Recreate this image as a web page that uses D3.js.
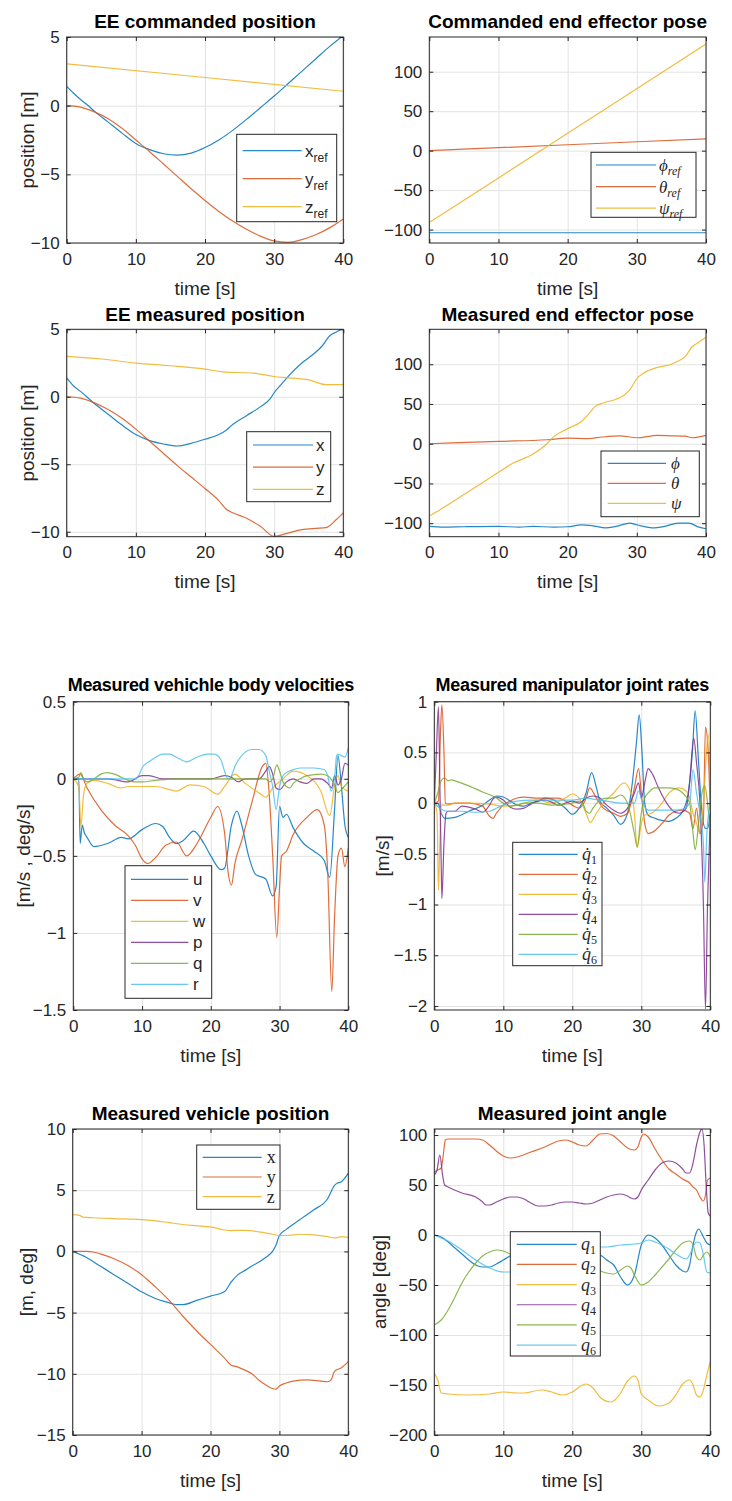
<!DOCTYPE html>
<html><head><meta charset="utf-8">
<script src="https://cdn.jsdelivr.net/npm/d3@7"></script>
<style>body{margin:0;background:#fff}svg{display:block}</style>
</head><body>
<svg id="c" width="732" height="1501"></svg>
<script>
// ---------- data ----------
const timeTicks = [0, 10, 20, 30, 40];
const posTicks = [-10, -5, 0, 5];
const poseTicks = [-100, -50, 0, 50, 100];
const velTicks = [-1.5, -1, -0.5, 0, 0.5];
const rateTicks = [-2, -1.5, -1, -0.5, 0, 0.5, 1];
const vehTicks = [-15, -10, -5, 0, 5, 10];
const angTicks = [-200, -150, -100, -50, 0, 50, 100];

// EE commanded position [t, value]
const eeCmdX = [[0,1.4],[1,0.9],[2,0.45],[3,0.05],[4,-0.4],[6,-1.2],[8,-2.0],[10,-2.75],[12,-3.2],[14,-3.5],[16,-3.6],[18,-3.45],[20,-3.05],[22,-2.5],[24,-1.8],[26,-1.0],[28,-0.15],[30,0.7],[32,1.6],[34,2.5],[36,3.4],[38,4.3],[40,5.1]];
const eeCmdY = [[0,0],[2,-0.1],[4,-0.45],[6,-0.95],[8,-1.65],[10,-2.5],[12,-3.35],[14,-4.25],[16,-5.15],[18,-6.05],[20,-6.9],[22,-7.7],[24,-8.4],[26,-9.0],[28,-9.5],[30,-9.85],[32,-9.95],[34,-9.75],[36,-9.4],[38,-8.9],[40,-8.25]];
const eeCmdZ = [[0,3.05],[20,2.05],[40,1.05]];

// Commanded EE pose
const cmdPhi = [[0,-104],[20,-104],[40,-104]];
const cmdTheta = [[0,0],[20,7.5],[40,15]];
const cmdPsi = [[0,-91],[20,22],[40,135]];

// EE measured position
const eeMeasX = [[0,1.4],[1,0.8],[2,0.4],[4,-0.5],[6,-1.3],[8,-2.1],[10,-2.8],[12,-3.25],[14,-3.5],[16,-3.65],[18,-3.45],[20,-3.15],[22,-2.8],[23,-2.5],[24,-2.05],[26,-1.4],[28,-0.75],[29.5,-0.1],[30,0.3],[31,0.9],[32,1.5],[34,2.5],[36,3.3],[37,3.8],[38,4.5],[39,4.8],[40,5.1]];
const eeMeasY = [[0,0],[2,-0.1],[4,-0.45],[6,-0.95],[8,-1.6],[10,-2.4],[12,-3.3],[14,-4.2],[16,-5.1],[18,-5.95],[20,-6.8],[22,-7.7],[23,-8.3],[24,-8.6],[26,-9.0],[28,-9.6],[30,-10.35],[32,-10.1],[34,-9.85],[36,-9.75],[37.5,-9.7],[39,-9.1],[40,-8.6]];
const eeMeasZ = [[0,3.0],[5,2.8],[10,2.5],[15,2.3],[20,2.05],[22.5,1.85],[27,1.75],[30,1.5],[32,1.4],[35,1.25],[37.5,0.9],[40,0.9]];

// Measured EE pose
const measPhi = [[0,-104],[2,-105],[5,-104.5],[10,-104],[13,-105],[15,-104],[18,-105],[20,-104.5],[22,-102],[23.5,-103],[25.5,-106],[27,-104],[29,-100],[30,-102],[32.5,-106],[34,-104],[36,-100],[37.5,-100],[39,-105],[40,-107]];
const measTheta = [[0,0],[10,3],[17,5],[20,7],[23,6.5],[25,8.5],[27.5,10],[30,7.5],[33,10.5],[35,10],[37,9.5],[38,7.5],[40,10.5]];
const measPsi = [[0,-91],[1,-86],[5,-64],[10,-36],[12,-25],[15,-13],[17,0],[18,9],[20,19],[22,28],[23,37],[24,47],[25,51],[27,56],[28,60],[29,68],[30,82],[31,89],[33,96],[35,100],[36,104],[37,110],[38,122],[39,128],[40,134]];

// Measured vehicle body velocities
const velU = [[0,0],[0.8,0],[1,-0.42],[1.3,-0.3],[1.6,-0.35],[2,-0.38],[3,-0.44],[5,-0.42],[7,-0.38],[8,-0.39],[10,-0.33],[12,-0.29],[13,-0.31],[14,-0.38],[15,-0.42],[16,-0.4],[17.5,-0.34],[19,-0.42],[20,-0.5],[21.5,-0.59],[22,-0.58],[23,-0.3],[23.8,-0.21],[24.5,-0.3],[25.5,-0.5],[26.5,-0.62],[28,-0.65],[29,-0.76],[29.5,-0.7],[30,-0.18],[30.5,-0.25],[31,-0.23],[32,-0.32],[33.5,-0.42],[35,-0.47],[36.5,-0.53],[37.3,-0.64],[38,-0.2],[38.5,0.15],[39,-0.05],[39.5,-0.3],[40,-0.38]];
const velV = [[0,0],[1,0.03],[2,-0.06],[4,-0.2],[6,-0.3],[8,-0.37],[9,-0.43],[10,-0.52],[10.8,-0.55],[12,-0.51],[13.5,-0.43],[15,-0.41],[16.5,-0.5],[18,-0.42],[20,-0.25],[21,-0.18],[22,-0.35],[22.5,-0.6],[23,-0.69],[23.5,-0.55],[24.5,-0.4],[26,-0.15],[27.5,0.08],[28,0.1],[28.5,-0.1],[29,-0.5],[29.6,-1.03],[30,-0.7],[30.3,-0.5],[31,-0.47],[32,-0.36],[34,-0.25],[35.5,-0.2],[36.5,-0.3],[37,-0.6],[37.6,-1.38],[38,-0.9],[38.5,-0.5],[39,-0.45],[39.5,-0.57],[40,-0.45]];
const velW = [[0,0],[0.8,-0.05],[1.1,-0.31],[1.5,-0.1],[2,-0.03],[3,-0.01],[5,-0.03],[7,-0.06],[8,-0.05],[10,-0.05],[12,-0.05],[14,-0.07],[15,-0.08],[17,-0.04],[19,-0.05],[21,-0.1],[22,-0.05],[23.5,0.03],[25,-0.03],[27,-0.09],[28,-0.12],[29,-0.06],[30.5,0],[32,0.05],[34,0.02],[36,-0.08],[37.3,-0.24],[38,-0.05],[38.5,0.02],[39,-0.05],[40,-0.08]];
const velP = [[0,0],[5,0],[8,-0.02],[10,0.02],[11,0.02],[13,0],[18,0],[20,0],[22,0.02],[23,0.01],[24,-0.02],[25,0],[27,0],[28,0.05],[28.5,0.08],[29,0.03],[29.5,-0.06],[30,-0.07],[31,-0.02],[32,0],[33,-0.02],[34,-0.03],[35,0],[36,0],[37,-0.03],[37.6,-0.06],[38,0.02],[38.5,-0.04],[39,0],[39.5,0.1],[40,0.09]];
const velQ = [[0,0],[0.8,0.01],[1.1,0.04],[1.5,0],[2,-0.02],[3,0],[4,0.03],[5,0.04],[6,0.03],[7,0.01],[8,-0.01],[9,-0.02],[10,-0.02],[12,-0.01],[15,0],[20,0],[25,0],[28,0],[28.5,-0.02],[29,0],[29.6,0.09],[30,0.05],[30.5,-0.02],[31.5,-0.06],[32,-0.03],[33,0],[34,0.02],[36,0.03],[37,0.02],[38,-0.04],[38.5,-0.09],[39,-0.07],[40,-0.02]];
const velR = [[0,0],[5,0],[9,0],[9.5,0.02],[10,0.07],[11,0.11],[12,0.14],[13,0.16],[14,0.16],[15,0.14],[16.5,0.11],[18,0.14],[19.5,0.16],[20.5,0.16],[21.5,0.12],[22,0.05],[22.5,0],[23,0.02],[23.5,0.08],[24.5,0.15],[26,0.19],[27,0.19],[28,0.15],[28.5,0.05],[29,-0.05],[29.5,-0.2],[30,-0.05],[30.5,0.02],[31,0.04],[32,0.06],[33,0.07],[35,0.07],[36.5,0.06],[37,0.02],[37.5,-0.08],[38,0],[38.3,0.15],[38.5,0.16],[39,0.15],[39.5,0.14],[40,0.2]];

// Measured manipulator joint rates
const rateQ1 = [[0,0],[0.5,0],[1,-0.1],[1.5,-0.15],[3,-0.14],[5,-0.08],[7,-0.02],[8,0.03],[9,0.07],[10,0.06],[11,0.02],[12,-0.02],[13,-0.03],[14,0],[15,0.02],[16,0.05],[17,0.04],[18,0],[19,-0.05],[20,-0.11],[21,-0.05],[22,0.1],[22.8,0.3],[23.5,0.15],[24,0.02],[25,-0.05],[26,-0.12],[27,-0.21],[28,-0.1],[28.7,0.2],[29.3,0.6],[29.7,0.87],[30.1,0.5],[30.5,0],[31,-0.12],[32,-0.15],[33,-0.17],[34,-0.18],[35,-0.15],[36,-0.08],[36.8,0.1],[37.4,0.5],[37.8,0.91],[38.3,0.4],[38.8,-0.1],[39.3,-0.25],[39.6,-0.25],[40,-0.1]];
const rateQ2 = [[0,0],[0.6,0.02],[0.9,0.7],[1.1,0.97],[1.4,0.5],[1.6,0],[2,-0.01],[3,0],[5,0],[7,-0.03],[8,-0.13],[8.5,-0.15],[9,-0.1],[10,-0.02],[11,0.02],[12,0.05],[13,0.06],[15,0.05],[17,0.05],[18,0.05],[19,0.02],[20,-0.02],[21,-0.05],[22,0.05],[22.5,0.15],[23.5,0.05],[24.5,-0.05],[26,-0.1],[27,-0.13],[28,-0.1],[28.5,0],[29,0.15],[29.6,0.34],[30,0.1],[30.5,-0.2],[31,-0.3],[32,-0.27],[33,-0.2],[34,-0.12],[35,-0.08],[36,-0.07],[37,-0.1],[37.5,-0.25],[38,-0.05],[38.5,-0.3],[39,-0.15],[39.3,0.75],[39.7,0.5],[40,-0.1]];
const rateQ3 = [[0,0],[0.4,-0.1],[0.6,-0.86],[0.8,-0.4],[1,-0.02],[2,-0.02],[3,0],[5,0],[8,-0.01],[10,-0.03],[12,-0.02],[14,0.02],[15,0.03],[17,0],[19,0.05],[20,0.09],[21,0.05],[22,-0.1],[22.6,-0.19],[23.5,-0.1],[24.5,0],[26,0.1],[27,0.18],[27.5,0.2],[28.5,0.1],[29,-0.1],[29.4,-0.44],[30,-0.2],[30.5,-0.12],[31.5,-0.1],[33,0],[34,0.1],[35.5,0.15],[36.5,0.12],[37,0.05],[37.5,-0.1],[38,-0.2],[38.5,-0.3],[39,0],[39.5,0.55],[39.7,0.68],[40,0.1]];
const rateQ4 = [[0,0],[0.3,0.5],[0.6,0.95],[0.8,0.2],[1,-0.6],[1.1,-0.94],[1.4,-0.4],[1.7,-0.1],[2,-0.08],[3,-0.08],[4,-0.03],[5,-0.04],[6,-0.06],[7,-0.09],[8,-0.02],[8.5,0.04],[9,0.06],[10,0.03],[11,-0.04],[12,-0.06],[13,-0.05],[14,-0.01],[15,0.02],[16,0.03],[17,0.01],[18,-0.02],[19,0],[20,0.02],[21,0],[22,0.05],[23,0.07],[24,0.05],[25,-0.02],[26,-0.07],[27,-0.1],[28,-0.05],[29,0.1],[29.6,0.2],[30,0.05],[30.5,0.2],[31,0.34],[31.5,0.3],[32.5,0.15],[33.5,0.02],[34.5,-0.07],[35.5,-0.1],[36.5,-0.05],[37,0.2],[37.6,0.64],[38,0.4],[38.5,0],[39,-1.0],[39.3,-2.03],[39.6,-1.0],[40,-0.1]];
const rateQ5 = [[0,0],[0.5,0.1],[1,0.22],[1.5,0.25],[2,0.22],[2.5,0.23],[3,0.22],[5,0.17],[7,0.11],[9,0.05],[10,0],[11,-0.03],[12,-0.02],[13,0],[15,0],[17,-0.02],[19,-0.01],[20,0],[21,0.02],[21.5,0],[22,-0.08],[22.5,-0.1],[23,-0.05],[24,0.03],[25,0.05],[26,0.05],[27,0.08],[28,0],[29,-0.3],[29.4,-0.43],[30,-0.1],[30.5,0.05],[31,0.1],[32,0.15],[34,0.15],[35,0.14],[36,0.1],[37,0],[37.5,-0.3],[37.8,-0.46],[38.3,-0.2],[38.8,0.1],[39.2,0.17],[39.6,0],[40,-0.3]];
const rateQ6 = [[0,0],[1,-0.06],[2,-0.08],[4,-0.08],[6,-0.09],[8,-0.08],[9,-0.05],[10,-0.02],[12,0.02],[14,0.03],[16,0.03],[18,0.03],[20,0.03],[22,0.05],[23,0.04],[25,0.02],[27,0],[29,0],[29.6,0.12],[30.2,0],[31,-0.07],[33,-0.07],[35,-0.07],[36,-0.06],[37,0],[37.5,0.33],[38,0.1],[38.7,-0.2],[39,-0.4],[39.2,-0.78],[39.5,-0.3],[40,0]];

// Measured vehicle position
const vehX = [[0,0],[2,-0.5],[4,-1.2],[6,-1.9],[8,-2.6],[10,-3.3],[12,-3.85],[14,-4.2],[15,-4.35],[16,-4.35],[18,-4.0],[20,-3.65],[22,-3.3],[23,-2.5],[24,-1.9],[25,-1.55],[26,-1.2],[28,-0.5],[29,0.0],[29.5,0.5],[30,1.3],[31,1.8],[33,2.6],[35,3.4],[37,4.3],[38,5.4],[38.5,5.6],[39,5.7],[40,6.4]];
const vehY = [[0,0],[2,0],[3,-0.05],[4,-0.2],[6,-0.6],[8,-1.15],[10,-1.9],[12,-2.9],[14,-4.0],[16,-5.3],[18,-6.5],[20,-7.6],[22,-8.7],[23,-9.3],[24,-9.45],[25,-9.7],[26,-10.0],[27,-10.5],[28,-10.9],[29,-11.2],[29.5,-11.25],[30,-11.0],[31,-10.75],[32,-10.6],[34,-10.5],[36,-10.6],[37,-10.65],[37.5,-10.5],[38,-9.8],[39,-9.5],[40,-9.0]];
const vehZ = [[0,3.0],[1,2.95],[1.5,2.8],[3,2.75],[6,2.68],[10,2.6],[12,2.5],[14,2.35],[16,2.2],[18,2.1],[20,2.0],[22,1.75],[23,1.7],[25,1.72],[27,1.6],[29,1.4],[30,1.3],[31,1.3],[33,1.4],[35,1.35],[37,1.2],[38,1.1],[39,1.2],[40,1.15]];

// Measured joint angles
const angQ1 = [[0,0],[1,-2],[2,-7],[3,-13],[4,-19],[5,-25],[6,-30],[7,-32],[8,-32],[9,-29],[10,-25],[11,-21],[12,-18],[14,-15],[16,-14],[18,-15],[20,-17],[22,-18],[24,-20],[25,-25],[26,-30],[27,-42],[28,-50],[29,-40],[30,-10],[30.5,-3],[31,0],[32,-3],[33,-10],[34,-20],[35,-30],[36,-36],[36.5,-37],[37,-30],[37.5,-10],[38,3],[38.3,6],[39,-2],[39.5,-8],[40,-10]];
const angQ2 = [[0,63],[0.5,65],[1,67],[1.3,80],[1.6,95],[2,96],[4,96],[6,96],[7,95],[8,90],[9,84],[10,79],[11,77],[12,78],[14,83],[16,88],[18,94],[19,95],[20,93],[21,90],[22,89],[23,95],[24,101],[25,101.5],[26,99],[27,93],[28,87],[29,85],[29.5,88],[30,98],[30.3,101],[31,98],[32,86],[33,75],[34,66],[35,61],[36,56],[37,52],[37.5,48],[38,45],[38.5,38],[39,34],[39.3,40],[39.6,55],[40,57]];
const angQ3 = [[0,-138],[0.5,-145],[1,-158],[2,-159],[5,-160],[8,-159],[10,-157],[12,-158],[13,-158],[15.5,-155],[17,-157],[18.5,-160],[20,-157],[21,-152],[22,-149],[23,-153],[24,-162],[25.5,-167],[26,-166],[27,-158],[28,-146],[29,-141],[29.5,-145],[30,-159],[31,-165],[32.5,-171],[34,-168],[35,-160],[36,-149],[37,-145],[37.5,-150],[38,-160],[38.5,-162],[39,-155],[39.5,-140],[40,-127]];
const angQ4 = [[0,60],[0.4,65],[0.8,80],[1.2,60],[1.5,50],[2,48],[4,42],[6,38],[7,33],[7.5,30],[8,30],[9,33],[10,36],[11,38],[12,38],[13,36],[14,32],[15,29],[16,29],[17,30],[18,32],[19,33],[20,33],[21,32],[22,31],[23,32],[24,35],[25,38],[26,40],[27,41],[28,39],[28.5,37],[29,36],[29.5,38],[30,45],[31,55],[32,65],[33,72],[34,74],[35,72],[36,66],[36.5,62],[37,62],[37.5,72],[38,90],[38.5,103],[38.8,106],[39.1,90],[39.4,50],[39.7,22],[40,19]];
const angQ5 = [[0,-90],[1,-85],[2,-75],[3,-62],[4,-48],[5,-37],[6,-28],[7,-21],[8,-17],[9,-15],[10,-16],[11,-19],[12,-22],[14,-26],[16,-28],[18,-30],[20,-32],[22,-34],[24,-36],[25,-38],[26,-39],[27,-35],[28,-31],[28.5,-33],[29,-40],[30,-50],[31,-47],[32,-40],[33,-32],[34,-24],[35,-15],[36,-8],[37,-6],[37.5,-10],[38,-22],[38.5,-25],[39,-20],[39.5,-17],[40,-22]];
const angQ6 = [[0,0],[1,-3],[2,-6],[4,-15],[6,-25],[8,-33],[10,-37],[11,-37],[12,-35],[14,-28],[16,-22],[18,-18],[20,-15],[22,-13],[24,-12],[25,-12],[27,-10],[29,-9],[30,-8],[31,-5],[32,-7],[33,-10],[34,-14],[35,-19],[36,-23],[36.5,-24],[37,-20],[37.5,-12],[38,-7],[38.5,-8],[39,-20],[39.5,-37],[40,-38]];

const colors = ["#0072BD","#D95319","#EDB120","#7E2F8E","#77AC30","#4DBEEE"];

// ---------- layout ----------
const SANS = "'Liberation Sans', Arial, Helvetica, sans-serif";
const SERIF = "'Liberation Serif', 'Times New Roman', serif";
const panels = [
 {box:[66.7,343.3,37,243], ydom:[-10,5], yticks:posTicks, title:"EE commanded position", ylabel:"position [m]", ylx:27,
  series:[eeCmdX,eeCmdY,eeCmdZ], lg:{x:236.7,y:134.3,w:100,h:87.4,r0:150.7,dr:28,l0:242.7,l1:301.7,tx:305},
  labels:[["x","ref"],["y","ref"],["z","ref"]], style:"tex"},
 {box:[429.3,706,37,243], ydom:[-117,144], yticks:poseTicks, title:"Commanded end effector pose",
  series:[cmdPhi,cmdTheta,cmdPsi], lg:{x:591,y:152.3,w:105,h:65,r0:165,dr:21.6,l0:596,l1:656,tx:659},
  labels:[["ϕ","ref"],["θ","ref"],["ψ","ref"]], style:"latex"},
 {box:[66.7,343.3,329.3,536.7], ydom:[-10.37,5], yticks:posTicks, title:"EE measured position", ylabel:"position [m]", ylx:27,
  series:[eeMeasX,eeMeasY,eeMeasZ], lg:{x:246.7,y:431.7,w:84,h:70,r0:445,dr:22.2,l0:253,l1:313,tx:316},
  labels:[["x",""],["y",""],["z",""]], style:"tex"},
 {box:[429.3,706,329.3,536.7], ydom:[-117,144], yticks:poseTicks, title:"Measured end effector pose",
  series:[measPhi,measTheta,measPsi], lg:{x:601,y:451,w:98.3,h:65.7,r0:463.3,dr:20,l0:607.7,l1:666,tx:671},
  labels:[["ϕ",""],["θ",""],["ψ",""]], style:"latex"},
 {box:[73.3,348.3,701.7,1010], ydom:[-1.5,0.5], yticks:velTicks, title:"Measured vehichle body velocities", ylabel:"[m/s , deg/s]", ylx:23.3,
  titleSize:18, titleLS:-0.3, titleUp:10.5,
  series:[velU,velV,velW,velP,velQ,velR], lg:{x:125,y:865.7,w:86.7,h:132.6,r0:879.3,dr:21,l0:131,l1:188.3,tx:193},
  labels:[["u",""],["v",""],["w",""],["p",""],["q",""],["r",""]], style:"tex"},
 {box:[434.3,710.3,701.7,1010], ydom:[-2.04,1], yticks:rateTicks, title:"Measured manipulator joint rates", ylabel:"[m/s]", ylx:382.7,
  titleSize:18, titleLS:-0.3, titleUp:10.5,
  series:[rateQ1,rateQ2,rateQ3,rateQ4,rateQ5,rateQ6], lg:{x:512.7,y:842.3,w:89.3,h:123.4,r0:854.3,dr:20,l0:518.7,l1:577.7,tx:582},
  labels:[["q̇","1"],["q̇","2"],["q̇","3"],["q̇","4"],["q̇","5"],["q̇","6"]], style:"q"},
 {box:[72.7,348.3,1129,1435], ydom:[-15,10], yticks:vehTicks, title:"Measured vehicle position", ylabel:"[m, deg]", ylx:26.7,
  series:[vehX,vehY,vehZ], lg:{x:196.7,y:1145,w:83.3,h:64.3,r0:1157.3,dr:19.7,l0:202.7,l1:261.7,tx:266.7},
  labels:[["x",""],["y",""],["z",""]], style:"serif"},
 {box:[434.3,710.3,1129,1435], ydom:[-200,106], yticks:angTicks, title:"Measured joint angle", ylabel:"angle [deg]", ylx:379.3,
  series:[angQ1,angQ2,angQ3,angQ4,angQ5,angQ6], lg:{x:510.3,y:1231.7,w:90,h:124.3,r0:1244.3,dr:20.15,l0:516.7,l1:576.7,tx:581},
  labels:[["q","1"],["q","2"],["q","3"],["q","4"],["q","5"],["q","6"]], style:"q"}
];

const svg = d3.select("#c");
const fmt = v => (v < 0 ? "\u2212" : "") + Math.abs(v);
const AX = "#262626";

panels.forEach((p, pi) => {
  const [x0, x1, y0, y1] = p.box;
  const W = x1 - x0, H = y1 - y0;
  const x = d3.scaleLinear().domain([0, 40]).range([0, W]);
  const y = d3.scaleLinear().domain(p.ydom).range([H, 0]);
  const g = svg.append("g").attr("transform", `translate(${x0},${y0})`);

  g.append("rect").attr("width", W).attr("height", H).attr("fill", "#fff");
  // grid
  const gx = g.append("g").attr("transform", `translate(0,${H})`)
    .call(d3.axisBottom(x).tickValues(timeTicks).tickSize(-H).tickFormat(""));
  const gy = g.append("g").call(d3.axisLeft(y).tickValues(p.yticks).tickSize(-W).tickFormat(""));
  [gx, gy].forEach(a => { a.select(".domain").remove(); a.selectAll("line").attr("stroke", "#e3e3e3").attr("stroke-width", 1); });

  // lines
  const cid = "clip" + pi;
  g.append("clipPath").attr("id", cid).append("rect").attr("width", W).attr("height", H);
  const line = d3.line().x(d => x(d[0])).y(d => y(d[1])).curve(d3.curveMonotoneX);
  const lg = g.append("g").attr("clip-path", `url(#${cid})`);
  p.series.forEach((s, i) => {
    lg.append("path").attr("d", line(s)).attr("fill", "none")
      .attr("stroke", colors[i]).attr("stroke-opacity", 0.85).attr("stroke-width", 1.2).attr("stroke-linejoin", "round");
  });

  // axes with inward ticks
  const tk = 4;
  const ab = g.append("g").attr("transform", `translate(0,${H})`)
    .call(d3.axisBottom(x).tickValues(timeTicks).tickSize(-tk).tickSizeOuter(0).tickPadding(9.5).tickFormat(fmt));
  const at = g.append("g").call(d3.axisTop(x).tickValues(timeTicks).tickSize(-tk).tickSizeOuter(0).tickFormat(""));
  const al = g.append("g")
    .call(d3.axisLeft(y).tickValues(p.yticks).tickSize(-tk).tickSizeOuter(0).tickPadding(7).tickFormat(fmt));
  const ar = g.append("g").attr("transform", `translate(${W},0)`)
    .call(d3.axisRight(y).tickValues(p.yticks).tickSize(-tk).tickSizeOuter(0).tickFormat(""));
  [ab, at, al, ar].forEach(a => {
    a.select(".domain").remove();
    a.selectAll("line").attr("stroke", AX).attr("stroke-width", 1);
    a.selectAll("text").attr("fill", AX).style("font-family", SANS).style("font-size", "17px");
  });
  g.append("rect").attr("width", W).attr("height", H).attr("fill", "none").attr("stroke", AX).attr("stroke-width", 1);

  // title
  svg.append("text").attr("x", x0 + W / 2).attr("y", y0 - (p.titleUp || 8.7)).attr("text-anchor", "middle")
    .style("font-family", SANS).style("font-size", (p.titleSize || 19) + "px").style("font-weight", "bold")
    .style("letter-spacing", (p.titleLS || 0) + "px").attr("fill", "#000")
    .text(p.title);
  // x label
  svg.append("text").attr("x", x0 + W / 2).attr("y", y1 + 51.5).attr("text-anchor", "middle")
    .style("font-family", SANS).style("font-size", "19px").attr("fill", AX).text("time [s]");
  // y label
  if (p.ylabel) {
    svg.append("text").attr("transform", `translate(${p.ylx + 6.5},${y0 + H / 2}) rotate(-90)`)
      .attr("text-anchor", "middle").style("font-family", SANS).style("font-size", "19px").attr("fill", AX)
      .text(p.ylabel);
  }

  // legend
  const L = p.lg;
  const leg = svg.append("g");
  leg.append("rect").attr("x", L.x).attr("y", L.y).attr("width", L.w).attr("height", L.h)
    .attr("fill", "#fff").attr("stroke", AX).attr("stroke-width", 1);
  p.labels.forEach((lab, i) => {
    const ry = L.r0 + i * L.dr;
    leg.append("line").attr("x1", L.l0).attr("x2", L.l1).attr("y1", ry).attr("y2", ry)
      .attr("stroke", colors[i]).attr("stroke-opacity", 0.85).attr("stroke-width", 1.2);
    const t = leg.append("text").attr("x", L.tx).attr("y", ry + 6).attr("fill", AX);
    if (p.style === "tex") {
      t.style("font-family", SANS).style("font-size", "17px");
      t.append("tspan").text(lab[0]);
      if (lab[1]) t.append("tspan").attr("dy", 5).style("font-size", "12px").text(lab[1]);
    } else if (p.style === "latex") {
      t.style("font-family", SERIF).style("font-size", "17px").style("font-style", "italic");
      t.append("tspan").text(lab[0]);
      if (lab[1]) t.append("tspan").attr("dy", 4).style("font-size", "12px").text(lab[1]);
    } else if (p.style === "serif") {
      t.style("font-family", SERIF).style("font-size", "18px").text(lab[0]);
    } else {
      t.style("font-family", SERIF).style("font-size", "18px");
      t.append("tspan").style("font-style", "italic").text(lab[0]);
      t.append("tspan").attr("dy", 4).style("font-size", "12px").text(lab[1]);
    }
  });
});
</script>
</body></html>
